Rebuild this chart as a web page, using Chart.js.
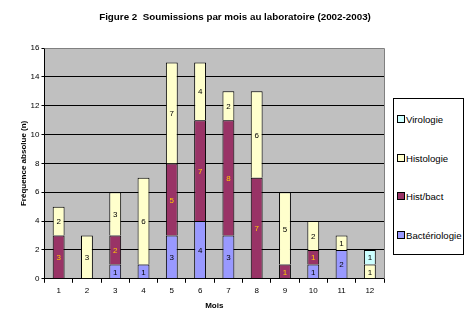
<!DOCTYPE html>
<html>
<head>
<meta charset="utf-8">
<script src="https://cdn.jsdelivr.net/npm/chart.js@4/dist/chart.umd.min.js"></script>
<style>
  body { margin: 0; background: #fff; }
  #wrap { position: relative; width: 470px; height: 326px; }
  #legend {
    position: absolute; left: 393px; top: 98px; width: 71px; height: 157px;
    border: 1px solid #000; box-sizing: border-box; background: #fff;
    font: 9.6px "Liberation Sans", Arial, sans-serif; color: #000;
  }
  #legend div { position: absolute; left: 3px; height: 12px; line-height: 12px; white-space: nowrap; }
  #legend span {
    display: inline-block; width: 6px; height: 6px; border: 1px solid #000;
    margin-right: 1px; vertical-align: 0px;
  }
</style>
</head>
<body>
<div id="wrap">
  <canvas id="c" width="470" height="326"></canvas>
  <div id="legend"></div>
</div>
<script>
const months = ['1', '2', '3', '4', '5', '6', '7', '8', '9', '10', '11', '12'];
const bacteriologie = [0, 0, 1, 1, 3, 4, 3, 0, 0, 1, 2, 0];
const histBact      = [3, 0, 2, 0, 5, 7, 8, 7, 1, 1, 0, 0];
const histologie    = [2, 3, 3, 6, 7, 4, 2, 6, 5, 2, 1, 1];
const virologie     = [0, 0, 0, 0, 0, 0, 0, 0, 0, 0, 0, 1];

const FONT = '"Liberation Sans", Arial, sans-serif';

const series = [
  { label: 'Bactériologie', data: bacteriologie, color: '#9999FF', text: '#000' },
  { label: 'Hist/bact', data: histBact, color: '#993366', text: '#FFCC00' },
  { label: 'Histologie', data: histologie, color: '#FFFFCC', text: '#000' },
  { label: 'Virologie', data: virologie, color: '#CCFFFF', text: '#000' }
];

// grey plot background + title
const backdrop = {
  id: 'backdrop',
  beforeDraw(chart) {
    const { ctx, chartArea: a } = chart;
    ctx.save();
    ctx.fillStyle = '#C0C0C0';
    ctx.fillRect(a.left, a.top, a.right - a.left, a.bottom - a.top);
    ctx.restore();
  },
  afterDraw(chart) {
    const { ctx, chartArea: a } = chart;
    ctx.save();
    ctx.strokeStyle = '#808080';
    ctx.lineWidth = 1;
    ctx.beginPath();
    ctx.moveTo(a.left, a.top + 0.5);
    ctx.lineTo(a.right + 0.5, a.top + 0.5);
    ctx.lineTo(a.right + 0.5, a.bottom);
    ctx.stroke();
    ctx.fillStyle = '#000';
    ctx.font = 'bold 9.8px ' + FONT;
    ctx.textAlign = 'center';
    ctx.textBaseline = 'middle';
    ctx.fillText('Figure 2  Soumissions par mois au laboratoire (2002-2003)', 235, 17);
    ctx.restore();
  }
};

// value labels inside segments
const segLabels = {
  id: 'segLabels',
  afterDatasetsDraw(chart) {
    const { ctx } = chart;
    ctx.save();
    ctx.font = '8px ' + FONT;
    ctx.textAlign = 'center';
    ctx.textBaseline = 'middle';
    chart.data.datasets.forEach((ds, i) => {
      const meta = chart.getDatasetMeta(i);
      meta.data.forEach((bar, j) => {
        const v = ds.data[j];
        if (!v) return;
        ctx.fillStyle = series[i].text;
        ctx.fillText(String(v), bar.x, (bar.y + bar.base) / 2 + 1);
      });
    });
    ctx.restore();
  }
};

new Chart(document.getElementById('c'), {
  type: 'bar',
  data: {
    labels: months,
    datasets: series.map(s => ({
      label: s.label,
      data: s.data,
      backgroundColor: s.color,
      borderColor: '#000',
      borderWidth: 1,
      barPercentage: 0.42,
      categoryPercentage: 1
    }))
  },
  options: {
    responsive: false,
    animation: false,
    layout: { padding: { left: 15, right: 86, top: 48, bottom: 11 } },
    plugins: {
      legend: { display: false },
      tooltip: { enabled: false }
    },
    scales: {
      x: {
        stacked: true,
        offset: true,
        grid: { drawOnChartArea: false, drawTicks: true, tickLength: 4, color: '#000', offset: true },
        border: { color: '#000' },
        ticks: { color: '#000', font: { family: FONT, size: 8 }, padding: 3 },
        title: { display: true, text: 'Mois', color: '#000', font: { family: FONT, size: 8, weight: 'bold' }, padding: { top: 3 } }
      },
      y: {
        stacked: true,
        min: 0,
        max: 16,
        ticks: { stepSize: 2, color: '#000', font: { family: FONT, size: 8 }, padding: 2 },
        grid: { color: '#000', tickLength: 3, tickColor: '#000' },
        border: { color: '#000' },
        title: { display: true, text: 'Fréquence absolue (n)', color: '#000', font: { family: FONT, size: 8, weight: 'bold' }, padding: { bottom: 0 } }
      }
    }
  },
  plugins: [backdrop, segLabels]
});

// legend, top entry = last stacked series
const legend = document.getElementById('legend');
series.slice().reverse().forEach((s, k) => {
  const row = document.createElement('div');
  row.style.top = (15 + k * 38.7) + 'px';
  row.innerHTML = '<span style="background:' + s.color + '"></span>' + s.label;
  legend.appendChild(row);
});
</script>
</body>
</html>
